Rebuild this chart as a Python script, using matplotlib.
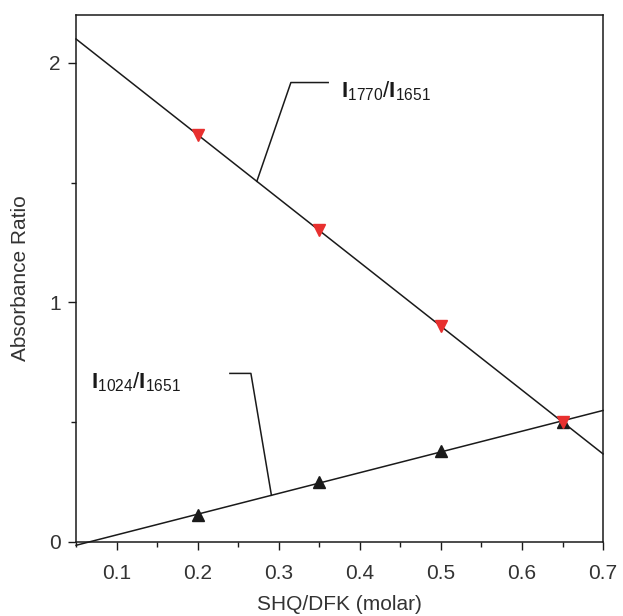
"""Absorbance ratio vs SHQ/DFK molar ratio, two linear fits."""

import matplotlib

matplotlib.use("Agg")
import matplotlib.pyplot as plt
import numpy as np
from matplotlib.ticker import MultipleLocator

# data
molar_ratio = [0.2, 0.35, 0.5, 0.65]
ratio_1770 = [1.70, 1.30, 0.90, 0.50]
ratio_1024 = [0.11, 0.25, 0.38, 0.50]

x_range = [0.05, 0.7]

RED = "#e8302f"
INK = "#1a1a1a"


def _setup_style() -> None:
    plt.rcParams.update(
        {
            "font.family": "Liberation Sans",
            "font.size": 15,
            "mathtext.fontset": "custom",
            "mathtext.rm": "Liberation Sans",
            "mathtext.bf": "Liberation Sans:bold",
            "axes.linewidth": 1.1,
            "axes.edgecolor": INK,
            "xtick.color": INK,
            "ytick.color": INK,
            "xtick.labelcolor": "#333333",
            "ytick.labelcolor": "#333333",
        }
    )


def _fit_line(xs, ys):
    slope, icpt = np.polyfit(xs, ys, 1)
    xx = np.array(x_range)
    return xx, slope * xx + icpt, slope, icpt


def main() -> None:
    _setup_style()
    fig = plt.figure(figsize=(6.23, 6.16), dpi=100)
    ax = fig.add_axes([0.122, 0.1206, 0.846, 0.855])

    xx, yy, s1, b1 = _fit_line(molar_ratio, ratio_1770)
    ax.plot(xx, yy, color=INK, linewidth=1.1, clip_on=False, zorder=2)
    xx, yy, s2, b2 = _fit_line(molar_ratio, ratio_1024)
    ax.plot(xx, yy, color=INK, linewidth=1.1, clip_on=False, zorder=2)

    ax.plot(molar_ratio, ratio_1024, linestyle="none", marker="^", markersize=8.5,
            color=INK, zorder=3, clip_on=False)
    ax.plot(molar_ratio, ratio_1770, linestyle="none", marker="v", markersize=8.5,
            color=RED, zorder=4, clip_on=False)

    # leader lines to the labels
    xa = 0.273
    ax.plot([xa, 0.315, 0.361], [s1 * xa + b1, 1.918, 1.918], color=INK, linewidth=1.1)
    xb = 0.291
    ax.plot([xb, 0.2657, 0.2398], [s2 * xb + b2, 0.703, 0.703], color=INK, linewidth=1.1)

    ax.text(0.377, 1.88, r"$\mathbf{I}_{1770}/\mathbf{I}_{1651}$", fontsize=16,
            va="center", ha="left", color=INK)
    ax.text(0.069, 0.665, r"$\mathbf{I}_{1024}/\mathbf{I}_{1651}$", fontsize=16,
            va="center", ha="left", color=INK)

    ax.set_xlim(*x_range)
    ax.set_ylim(0, 2.2)
    ax.xaxis.set_major_locator(MultipleLocator(0.1))
    ax.xaxis.set_minor_locator(MultipleLocator(0.05))
    ax.yaxis.set_major_locator(MultipleLocator(1))
    ax.yaxis.set_minor_locator(MultipleLocator(0.5))
    ax.tick_params(which="major", length=6, width=1.0)
    ax.tick_params(which="minor", length=3.5, width=1.0)
    ax.tick_params(axis="x", which="major", pad=10)
    ax.tick_params(axis="y", which="major", pad=5)
    ax.set_xticklabels([f"{v:.1f}" for v in ax.get_xticks()])

    ax.set_xlabel("SHQ/DFK (molar)", color="#333333", labelpad=9)
    ax.set_ylabel("Absorbance Ratio", color="#333333", labelpad=14)

    fig.savefig("out.png", dpi=100, facecolor="white")
    plt.close(fig)


if __name__ == "__main__":
    main()
